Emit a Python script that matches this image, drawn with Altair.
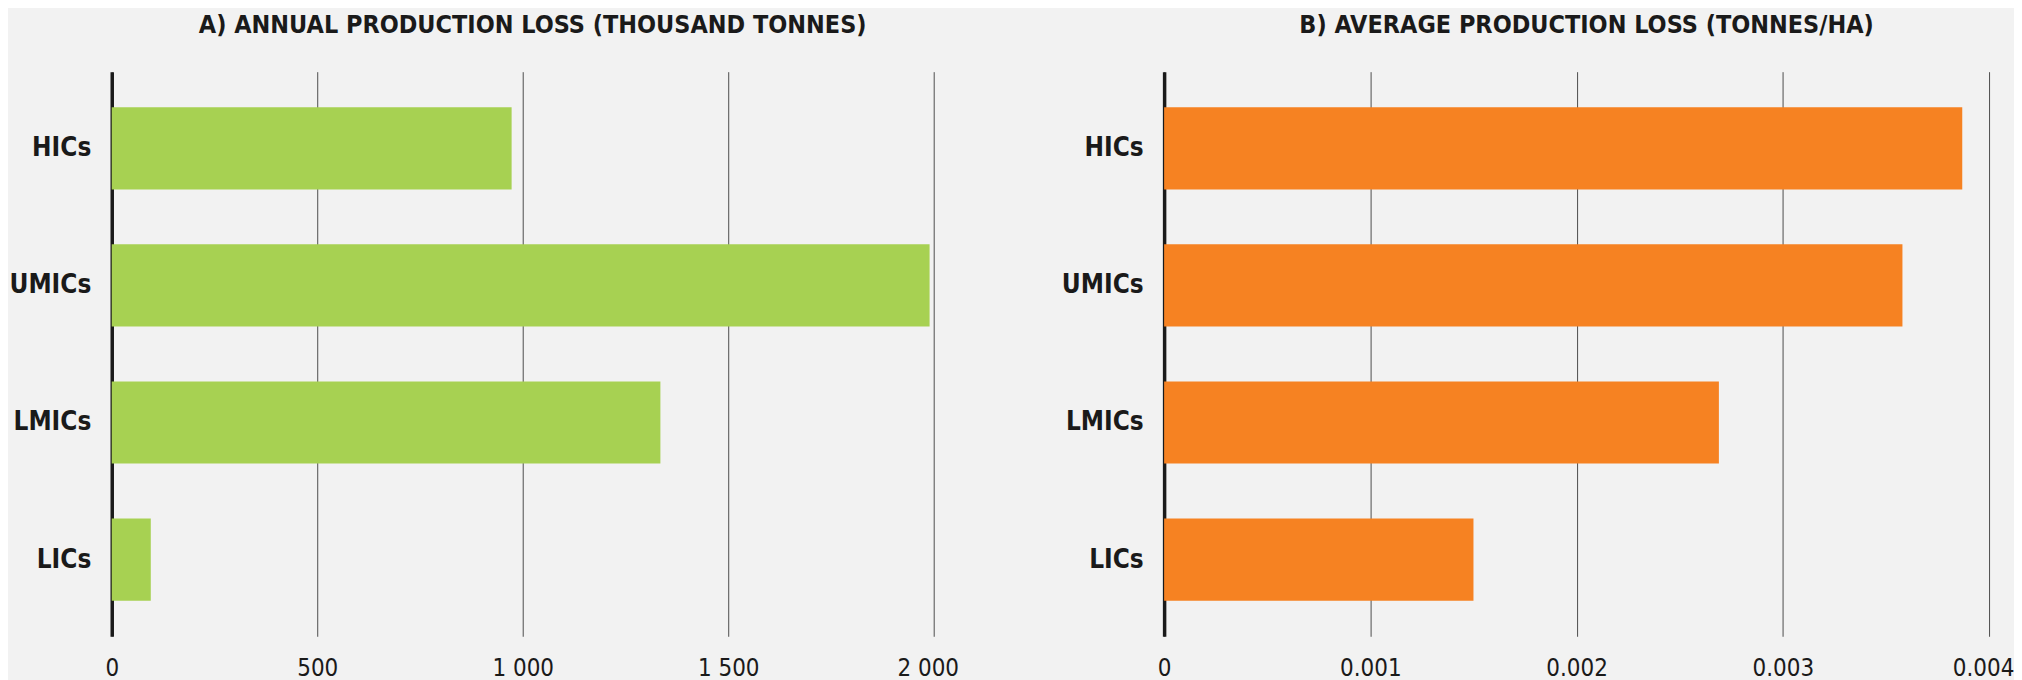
import altair as alt
import pandas as pd

# income groups and the two loss measures
groups = ["HICs", "UMICs", "LMICs", "LICs"]
annual_loss = [973, 1990, 1335, 95]            # thousand tonnes
avg_loss = [0.00387, 0.00358, 0.00269, 0.0015]  # tonnes/ha

annual_ticks = [0, 500, 1000, 1500, 2000]
avg_ticks = [0, 0.001, 0.002, 0.003, 0.004]

df = pd.DataFrame({"group": groups, "annual": annual_loss, "avg": avg_loss})

FONT = "DejaVu Sans Condensed, DejaVu Sans, sans-serif"
BG = "#f2f2f2"


def panel(field, color, title, domain, ticks, label_expr, width):
    # nudge the last tick label in a little so it stays on the page
    last_nudge = {"condition": {"test": f"datum.value >= {domain[1]}", "value": -6}, "value": 0}
    return (
        alt.Chart(df)
        .mark_bar(color=color)
        .encode(
            x=alt.X(
                f"{field}:Q",
                scale=alt.Scale(domain=domain, nice=False),
                axis=alt.Axis(
                    title=None,
                    values=ticks,
                    labelExpr=label_expr,
                    grid=True,
                    gridColor="#4d4d4d",
                    gridWidth=1,
                    domain=False,
                    ticks=False,
                    labelFontSize=24,
                    labelFont=FONT,
                    labelColor="#1a1a1a",
                    labelPadding=20,
                    labelFlush=False,
                    labelOffset=last_nudge,
                ),
            ),
            y=alt.Y(
                "group:N",
                sort=groups,
                scale=alt.Scale(paddingInner=0.4, paddingOuter=0.26),
                axis=alt.Axis(
                    title=None,
                    domainColor="#1a1a1a",
                    domainWidth=3.5,
                    ticks=False,
                    tickSize=0,
                    labelFontSize=26,
                    labelFont=FONT,
                    labelFontWeight="bold",
                    labelColor="#1a1a1a",
                    labelPadding=21,
                ),
            ),
        )
        .properties(
            width=width,
            height=566,
            title=alt.TitleParams(
                title,
                font=FONT,
                fontSize=25,
                fontWeight="bold",
                color="#1a1a1a",
                anchor="middle",
                dx=10,
                offset=34,
            ),
        )
    )


left = panel(
    "annual", "#a7d152", "A) ANNUAL PRODUCTION LOSS (THOUSAND TONNES)",
    [0, 2000], annual_ticks, "replace(format(datum.value, ',d'), ',', ' ')", 824,
)
right = panel(
    "avg", "#f68222", "B) AVERAGE PRODUCTION LOSS (TONNES/HA)",
    [0, 0.004], avg_ticks, "datum.value == 0 ? '0' : format(datum.value, '.3f')", 827,
)

chart = (
    alt.hconcat(left, right, spacing=231, bounds="flush")
    .properties(background=BG, padding={"left": 0, "top": 4, "right": 0, "bottom": 0})
    .configure_view(stroke=None)
)

chart.save("out.html", embed_options={"renderer": "svg", "actions": False})
